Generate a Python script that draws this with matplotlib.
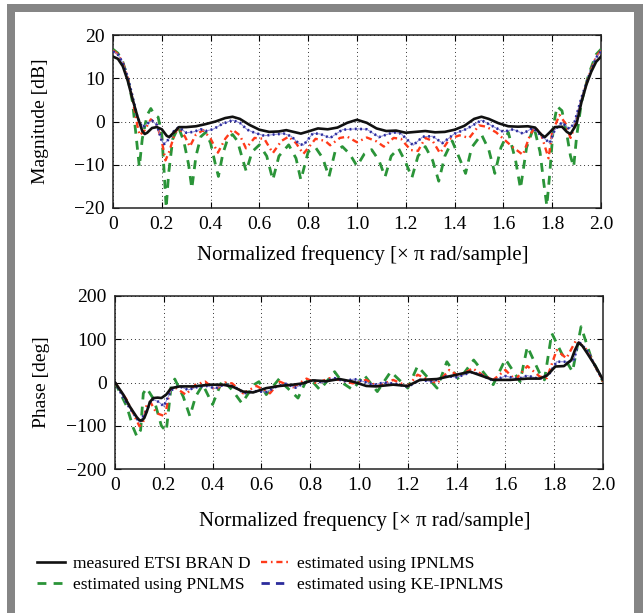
import matplotlib
matplotlib.use("Agg")
import matplotlib.pyplot as plt
from matplotlib.lines import Line2D
from matplotlib.patches import Rectangle

plt.rcParams['font.family'] = ['Liberation Serif', 'DejaVu Serif']
plt.rcParams['mathtext.fontset'] = 'stix'

# ---------------- data: magnitude [dB] ----------------
mag_meas_f = [0.00, 0.02, 0.04, 0.06, 0.08, 0.10, 0.12, 0.13, 0.14, 0.16, 0.18, 0.20, 0.22, 0.23,
              0.25, 0.27, 0.30, 0.34, 0.38, 0.42, 0.46, 0.49, 0.52, 0.56, 0.60, 0.64, 0.68, 0.71,
              0.74, 0.77, 0.80, 0.84, 0.88, 0.92, 0.96, 1.00, 1.04, 1.08, 1.12, 1.16, 1.20, 1.24,
              1.28, 1.32, 1.36, 1.40, 1.44, 1.48, 1.51, 1.54, 1.58, 1.62, 1.66, 1.70, 1.73, 1.755,
              1.77, 1.79, 1.81, 1.84, 1.86, 1.875, 1.89, 1.90, 1.92, 1.94, 1.96, 1.98, 2.00]
mag_meas = [15.0, 14.5, 12.8, 9.5, 5.2, 1.2, -2.2, -2.9, -2.6, -1.5, -1.3, -1.8, -3.3, -3.6,
            -2.5, -1.3, -1.3, -1.1, -0.6, 0.0, 0.8, 1.1, 0.6, -0.8, -1.9, -2.4, -2.3, -2.0,
            -2.4, -2.8, -2.3, -1.6, -1.8, -1.4, -0.3, 0.4, -0.3, -1.6, -2.2, -2.1, -2.6, -2.4,
            -2.2, -2.5, -2.4, -1.9, -1.0, 0.6, 1.1, 0.6, -0.4, -1.1, -1.2, -1.1, -1.4, -3.0,
            -3.6, -2.5, -1.3, -1.2, -2.4, -2.9, -1.5, -0.5, 4.5, 8.5, 11.5, 13.8, 15.0]

mag_pn_f = [0.00, 0.02, 0.04, 0.06, 0.08, 0.095, 0.108, 0.12, 0.14, 0.155, 0.17, 0.185, 0.20, 0.21,
            0.218, 0.228, 0.245, 0.268, 0.29, 0.31, 0.323, 0.34, 0.36, 0.38, 0.40, 0.42, 0.432,
            0.45, 0.47, 0.49, 0.51, 0.53, 0.546, 0.57, 0.60, 0.63, 0.655, 0.68, 0.72, 0.75, 0.77,
            0.80, 0.83, 0.86, 0.885, 0.91, 0.94, 0.97, 1.00, 1.03, 1.06, 1.09, 1.115, 1.14, 1.17,
            1.20, 1.225, 1.25, 1.28, 1.31, 1.335, 1.36, 1.39, 1.42, 1.445, 1.47, 1.51, 1.54, 1.565,
            1.59, 1.62, 1.65, 1.67, 1.695, 1.725, 1.75, 1.765, 1.778, 1.79, 1.805, 1.82, 1.84,
            1.86, 1.875, 1.888, 1.90, 1.92, 1.95, 1.98, 2.00]
mag_pn = [16.7, 15.8, 13.8, 10.2, 4.5, -3.5, -10.5, -4.0, 1.5, 3.0, 1.5, 1.0, -3.0, -12.0,
          -20.0, -12.0, -4.0, -1.3, -4.5, -10.0, -15.5, -8.0, -3.5, -2.5, -5.0, -10.0, -12.7,
          -7.5, -4.0, -3.0, -4.5, -8.5, -11.5, -7.0, -5.4, -8.0, -13.5, -8.0, -5.4, -8.5, -13.5,
          -7.0, -6.0, -8.5, -12.8, -7.0, -5.8, -7.5, -10.3, -7.5, -6.5, -9.0, -12.8, -8.0, -6.2,
          -9.5, -13.0, -8.0, -5.8, -9.0, -13.8, -8.0, -4.5, -8.5, -12.0, -6.0, -3.0, -6.5, -12.0,
          -6.0, -2.5, -9.0, -15.5, -6.0, -1.2, -7.0, -14.0, -19.5, -12.0, -1.0, 3.5, 2.5,
          -3.0, -8.0, -10.5, -3.5, 4.5, 11.0, 15.5, 16.7]

mag_ip_f = [0.00, 0.02, 0.04, 0.06, 0.08, 0.10, 0.11, 0.13, 0.155, 0.18, 0.20, 0.215, 0.23, 0.255,
            0.27, 0.295, 0.315, 0.34, 0.37, 0.40, 0.43, 0.46, 0.49, 0.52, 0.545, 0.58, 0.62, 0.655,
            0.69, 0.72, 0.75, 0.78, 0.83, 0.87, 0.89, 0.93, 0.96, 1.00, 1.04, 1.08, 1.11, 1.15,
            1.18, 1.22, 1.25, 1.28, 1.31, 1.34, 1.38, 1.42, 1.46, 1.50, 1.53, 1.57, 1.60, 1.64,
            1.68, 1.71, 1.73, 1.755, 1.785, 1.80, 1.83, 1.855, 1.875, 1.89, 1.92, 1.95, 1.98, 2.00]
mag_ip = [16.4, 15.6, 13.6, 10.2, 5.2, -1.0, -3.2, -2.0, 0.5, -0.8, -4.5, -9.0, -7.0, -2.5,
          -1.4, -3.5, -5.8, -3.0, -2.0, -4.0, -7.2, -4.0, -1.9, -3.2, -6.2, -3.8, -4.0, -7.3,
          -4.5, -3.5, -5.0, -7.5, -4.0, -4.5, -5.5, -3.8, -3.5, -4.8, -3.7, -4.6, -5.8, -3.8,
          -4.0, -6.6, -6.8, -3.8, -4.5, -7.3, -4.0, -3.2, -3.8, -0.9, -1.2, -2.5, -4.0, -6.0,
          -7.7, -3.0, -1.3, -3.0, -8.5, -2.5, 1.5, -0.5, -3.8, -1.5, 5.0, 10.5, 15.0, 16.4]

mag_ke_f = [0.00, 0.02, 0.04, 0.06, 0.08, 0.10, 0.12, 0.14, 0.16, 0.18, 0.20, 0.21, 0.23, 0.25,
            0.27, 0.30, 0.33, 0.36, 0.38, 0.41, 0.45, 0.49, 0.52, 0.55, 0.58, 0.62, 0.66, 0.70,
            0.73, 0.76, 0.78, 0.82, 0.85, 0.89, 0.94, 1.00, 1.04, 1.09, 1.15, 1.18, 1.23, 1.27,
            1.31, 1.35, 1.40, 1.45, 1.51, 1.56, 1.60, 1.64, 1.68, 1.72, 1.76, 1.79, 1.81, 1.84,
            1.87, 1.89, 1.92, 1.95, 1.98, 2.00]
mag_ke = [16.2, 15.5, 13.6, 10.3, 5.8, 1.0, -1.4, -0.5, 0.2, -0.8, -4.5, -5.2, -4.0, -2.2,
          -1.3, -2.6, -2.4, -1.8, -2.2, -1.8, -0.5, 0.3, -0.3, -1.9, -2.6, -3.3, -3.0, -2.8,
          -3.4, -5.0, -5.5, -2.7, -2.9, -3.8, -1.9, -1.7, -1.8, -3.6, -2.5, -2.8, -5.5, -3.5,
          -3.4, -5.0, -2.8, -1.7, 0.3, -1.2, -2.4, -1.8, -2.8, -1.5, -3.5, -5.0, -2.0, -0.2,
          -1.7, -0.5, 5.5, 10.5, 14.8, 16.2]

# ---------------- data: phase [deg] ----------------
ph_meas_f = [0.00, 0.034, 0.06, 0.075, 0.089, 0.10, 0.11, 0.12, 0.13, 0.143, 0.157, 0.175, 0.19,
             0.21, 0.23, 0.266, 0.32, 0.39, 0.44, 0.48, 0.525, 0.566, 0.62, 0.675, 0.73, 0.77,
             0.81, 0.866, 0.92, 0.975, 1.03, 1.07, 1.14, 1.20, 1.25, 1.32, 1.40, 1.455, 1.51,
             1.55, 1.62, 1.69, 1.74, 1.77, 1.79, 1.805, 1.84, 1.87, 1.885, 1.90, 1.915, 1.935,
             1.97, 2.00]
ph_meas = [0, -28, -55, -68, -80, -87, -88, -82, -68, -45, -36, -35, -36,
           -28, -13, -9, -9, -5, -5, -9, -21, -23, -13, -8, -5, -2,
           5, 3, 8, 2, -8, -9, -5, -8, 6, 8, 18, 25, 14,
           6, 6, 9, 9, 16, 28, 37, 38, 52, 75, 92, 85, 68,
           37, 6]

ph_pn_f = [0.00, 0.048, 0.075, 0.09, 0.105, 0.116, 0.13, 0.16, 0.19, 0.21, 0.23, 0.245, 0.28,
           0.307, 0.33, 0.36, 0.40, 0.44, 0.48, 0.52, 0.57, 0.59, 0.62, 0.675, 0.70, 0.75, 0.78,
           0.80, 0.84, 0.90, 0.935, 0.975, 1.02, 1.075, 1.13, 1.20, 1.24, 1.32, 1.36, 1.41, 1.47,
           1.55, 1.60, 1.66, 1.69, 1.74, 1.76, 1.79, 1.83, 1.875, 1.91, 1.95, 2.00]
ph_pn = [0, -55, -105, -125, -110, -25, -13, -40, -100, -113, -9, 8, -33,
         -78, -33, -5, -51, 6, -17, -48, -5, 2, -28, 10, -9, -36, 0,
         8, -17, 25, -2, -17, 18, -21, 25, -13, 38, -13, 48, 6, 52,
         -5, 54, 2, 83, 22, 6, 114, 68, 25, 129, 60, 2]

ph_ip_f = [0.00, 0.048, 0.10, 0.115, 0.13, 0.145, 0.17, 0.205, 0.225, 0.25, 0.29, 0.33, 0.37,
           0.41, 0.45, 0.48, 0.525, 0.58, 0.635, 0.675, 0.73, 0.785, 0.825, 0.88, 0.92, 0.975,
           1.03, 1.075, 1.14, 1.20, 1.24, 1.32, 1.37, 1.41, 1.465, 1.505, 1.55, 1.60, 1.64, 1.69,
           1.74, 1.77, 1.81, 1.85, 1.89, 1.935, 2.00]
ph_ip = [0, -40, -101, -93, -51, -45, -71, -78, -17, -13, -28, -5, 2,
         -17, 0, -2, -25, -8, -25, 2, -11, 9, -2, 10, 6, -2,
         6, -9, 6, -9, 18, -2, 29, 14, 33, 18, 6, 29, 6, 38,
         14, 10, 75, 56, 98, 75, 2]

ph_ke_f = [0.00, 0.05, 0.10, 0.13, 0.15, 0.18, 0.20, 0.23, 0.26, 0.30, 0.34, 0.38, 0.41, 0.45,
           0.49, 0.53, 0.57, 0.62, 0.66, 0.70, 0.74, 0.78, 0.81, 0.85, 0.90, 0.94, 0.98, 1.02,
           1.06, 1.10, 1.15, 1.20, 1.25, 1.30, 1.36, 1.40, 1.46, 1.50, 1.55, 1.60, 1.65, 1.69,
           1.74, 1.78, 1.81, 1.85, 1.88, 1.90, 1.94, 1.97, 2.00]
ph_ke = [0, -50, -92, -65, -38, -45, -55, -18, -8, -17, -10, -8, -14, -4,
         -10, -25, -20, -22, -10, -3, -12, 0, 5, 0, 10, 3, 8, 2,
         -6, 0, -3, -10, 6, 2, 15, 12, 24, 18, 4, 15, 8, 16,
         8, 20, 48, 48, 50, 95, 70, 35, 5]

xticks = [0, 0.2, 0.4, 0.6, 0.8, 1.0, 1.2, 1.4, 1.6, 1.8, 2.0]
xticklabels = ['0', '0.2', '0.4', '0.6', '0.8', '1.0', '1.2', '1.4', '1.6', '1.8', '2.0']
mag_ticks = [-20, -10, 0, 10, 20]
ph_ticks = [-200, -100, 0, 100, 200]
legend_labels = ['measured ETSI BRAN D', 'estimated using PNLMS',
                 'estimated using IPNLMS', 'estimated using KE-IPNLMS']

# ---------------- styles ----------------
C_BLACK = '#111111'
C_GREEN = '#2a9438'
C_RED = '#ff3a1a'
C_BLUE = '#2c2c9c'
C_BLUE_LIGHT = '#8a8ad8'
FS = 14
FS_XLAB = 15
FS_LEG = 12.5

W, H = 643, 613
fig = plt.figure(figsize=(W / 100, H / 100), dpi=100)
fig.patch.set_facecolor('white')

# gray frame
gray = '#858585'
fig.patches.append(Rectangle((7 / W, 0), 8 / W, (H - 4) / H, transform=fig.transFigure,
                             facecolor=gray, edgecolor='none', zorder=0))
fig.patches.append(Rectangle((7 / W, (H - 12) / H), 1 - 7 / W, 8 / H, transform=fig.transFigure,
                             facecolor=gray, edgecolor='none', zorder=0))
fig.patches.append(Rectangle((634 / W, 0), 9 / W, (H - 4) / H, transform=fig.transFigure,
                             facecolor=gray, edgecolor='none', zorder=0))

ax1 = fig.add_axes([113 / W, 1 - 208 / H, 488 / W, 173 / H])
ax2 = fig.add_axes([115 / W, 1 - 469 / H, 488 / W, 173 / H])


def draw(ax, fm, m, fp, p, fi, i, fk, k):
    ax.plot(fp, p, color=C_GREEN, lw=2.0, dashes=(3.2, 2.6), zorder=3)
    ax.plot(fi, i, color=C_RED, lw=1.7, dashes=(2.6, 1.6, 0.7, 1.6), zorder=4)
    ax.plot(fk, k, color=C_BLUE_LIGHT, lw=0.7, zorder=5)
    ax.plot(fk, k, color=C_BLUE, lw=1.9, dashes=(0.7, 1.3), zorder=5)
    ax.plot(fm, m, color=C_BLACK, lw=1.9, zorder=6)


draw(ax1, mag_meas_f, mag_meas, mag_pn_f, mag_pn, mag_ip_f, mag_ip, mag_ke_f, mag_ke)
draw(ax2, ph_meas_f, ph_meas, ph_pn_f, ph_pn, ph_ip_f, ph_ip, ph_ke_f, ph_ke)

for ax, yt, ylab in ((ax1, mag_ticks, 'Magnitude [dB]'), (ax2, ph_ticks, 'Phase [deg]')):
    ax.set_xlim(0, 2)
    ax.set_ylim(yt[0], yt[-1])
    ax.set_xticks(xticks)
    ax.set_xticklabels(xticklabels)
    ax.set_yticks(yt)
    ax.tick_params(direction='in', top=True, right=True, labelsize=FS, length=4,
                   width=0.8, pad=6)
    ax.grid(True, color='#333333', linestyle=(0, (1, 3)), linewidth=0.7)
    for s in ax.spines.values():
        s.set_linewidth(1.1)
        s.set_color('#222222')
    ax.set_xlabel('Normalized frequency [× π rad/sample]', fontsize=FS_XLAB, va='center')
    ax.set_ylabel(ylab, fontsize=FS, va='center')

ax1.xaxis.set_label_coords((363 - 113) / 488, (208 - 255) / 173)
ax2.xaxis.set_label_coords((365 - 115) / 488, (469 - 521) / 173)
ax1.yaxis.set_label_coords((41 - 113) / 488, 0.5)
ax2.yaxis.set_label_coords((41 - 115) / 488, 0.5)

handles = [
    Line2D([], [], color=C_BLACK, lw=1.9),
    Line2D([], [], color=C_GREEN, lw=2.0, dashes=(3.2, 2.6)),
    Line2D([], [], color=C_RED, lw=1.7, dashes=(2.6, 1.6, 0.7, 1.6)),
    Line2D([], [], color=C_BLUE, lw=2.0, dashes=(3.0, 2.2)),
]
fig.legend(handles, legend_labels, loc='upper left', bbox_to_anchor=(37 / W, 1 - 556 / H),
           ncol=2, frameon=False, fontsize=FS_LEG, borderpad=0, borderaxespad=0,
           handlelength=1.6, handletextpad=0.46, columnspacing=0.63, labelspacing=0.26)

fig.savefig('out.png', dpi=100, facecolor='white')
